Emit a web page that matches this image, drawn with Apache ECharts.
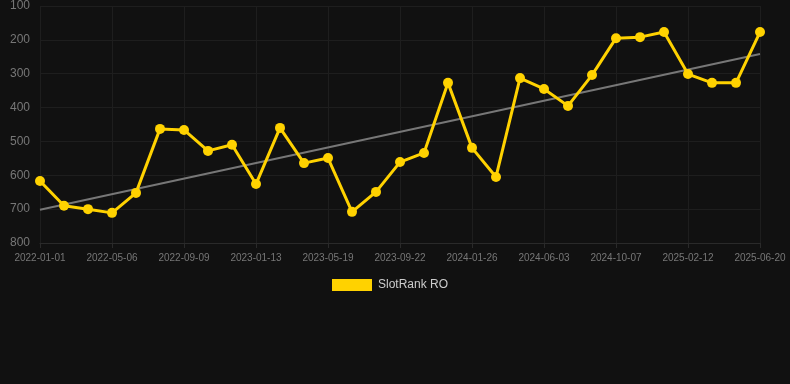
<!DOCTYPE html>
<html><head><meta charset="utf-8">
<script src="https://cdn.jsdelivr.net/npm/echarts@6/dist/echarts.min.js"></script>
<style>html,body{margin:0;padding:0;background:#111111;}#c{width:790px;height:384px;}</style>
</head><body><div id="c"></div>
<script>
var dates = ['2022-01-01','2022-02-12','2022-03-26','2022-05-06','2022-06-17','2022-07-29','2022-09-09','2022-10-21','2022-12-02','2023-01-13','2023-02-24','2023-04-07','2023-05-19','2023-06-30','2023-08-11','2023-09-22','2023-11-03','2023-12-15','2024-01-26','2024-03-08','2024-04-22','2024-06-03','2024-07-16','2024-08-27','2024-10-07','2024-11-19','2025-01-01','2025-02-12','2025-03-27','2025-05-08','2025-06-20'];
var rank = [617,690,700,711,652,463,466,528,510,626,460,564,549,708,649,561,534,327,519,605,313,345,395,304,195,192,177,301,327,327,177];
var trendStart = 702;
var trendEnd = 242;
var trend = dates.map(function(d,i){ return i===0 ? trendStart : (i===dates.length-1 ? trendEnd : null); });
var chart = echarts.init(document.getElementById('c'));
chart.setOption({
  backgroundColor:'#111111',
  animation:false,
  grid:{left:40,right:30,top:6,height:237},
  legend:{bottom:88,left:327,itemWidth:40,itemHeight:12,data:[{name:'SlotRank RO',icon:'rect'}],textStyle:{color:'#cccccc',fontSize:12,fontFamily:'Arial, Liberation Sans, sans-serif',padding:[0,0,0,1]}},
  xAxis:{type:'category',data:dates,boundaryGap:false,
    axisLine:{lineStyle:{color:'#2a2a2a'}},
    axisTick:{show:true,interval:2,lineStyle:{color:'#2a2a2a'}},
    axisLabel:{interval:2,color:'#777777',fontSize:10,fontFamily:'Arial, Liberation Sans, sans-serif',margin:10},
    splitLine:{show:true,interval:2,lineStyle:{color:'#1e1e1e'}}},
  yAxis:{type:'value',inverse:true,min:100,max:800,interval:100,
    axisLine:{show:false},axisTick:{show:false},
    axisLabel:{color:'#777777',fontSize:12,fontFamily:'Arial, Liberation Sans, sans-serif',margin:10},
    splitLine:{lineStyle:{color:'#1e1e1e'}}},
  series:[
    {name:'SlotRank RO',type:'line',data:rank,symbol:'circle',symbolSize:10,
     lineStyle:{color:'#FFD200',width:3},itemStyle:{color:'#FFD200'},z:3},
    {name:'trend',type:'line',data:trend,connectNulls:true,symbol:'none',
     lineStyle:{color:'#777777',width:2},z:2}
  ]
});
</script></body></html>
